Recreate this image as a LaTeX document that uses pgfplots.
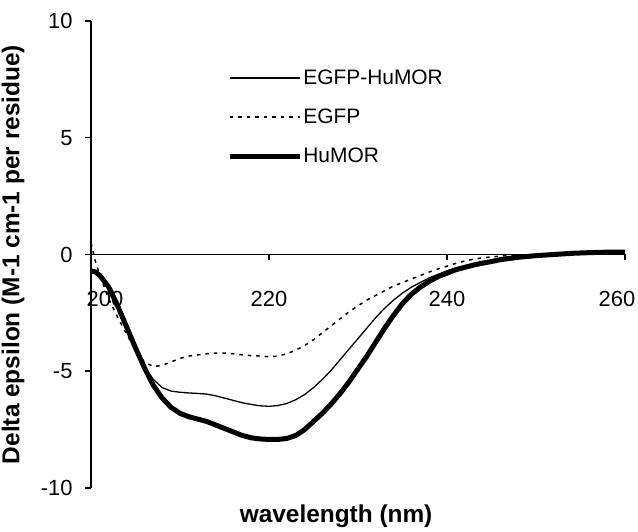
\documentclass[border=0pt]{standalone}
\usepackage{fontspec}
\setmainfont{Liberation Sans}
\usepackage{pgfplots}
\pgfplotsset{compat=1.18}
\begin{document}
\begin{tikzpicture}
\begin{axis}[
  at={(0,0)}, anchor=south west,
  width=534bp, height=467bp, scale only axis=true,
  xmin=200, xmax=260, ymin=-10, ymax=10,
  axis x line*=middle, axis y line*=left,
  hide obscured x ticks=false,
  hide obscured y ticks=false,
  axis line style={line width=1.8bp, black},
  xtick={200,220,240,260},
  xticklabels={\hspace*{28bp}200,220,240,260\hspace*{16bp}},
  ytick={-10,-5,0,5,10},
  tick align=outside,
  major tick length=6bp,
  tick style={line width=1.5bp, black},
  xticklabel style={font=\fontsize{22}{26}\selectfont, anchor=center, yshift=-38bp},
  yticklabel style={font=\fontsize{22}{26}\selectfont, xshift=-9bp},
  /pgf/number format/assume math mode=true,
  xlabel={\bfseries wavelength (nm)},
  ylabel={\bfseries Delta epsilon (M-1 cm-1 per residue)},
  xlabel style={font=\fontsize{24.5}{28}\selectfont, at={([yshift=-28bp]axis description cs:0.459,0)}, anchor=center},
  ylabel style={font=\fontsize{24.5}{28}\selectfont, at={([xshift=-78bp]axis description cs:0,0.5)}, anchor=center, rotate=0},
  clip=false,
  legend style={draw=none, fill=none, at={(axis cs:215.3,7.95)}, anchor=north west,
    font=\fontsize{21}{25}\selectfont, inner sep=0pt, row sep=21bp,
    nodes={inner sep=1bp}},
  legend cell align=left,
  legend image code/.code={\draw[#1] (0bp,0bp) -- (70bp,0bp);},
]
\addplot[black, line width=1.3bp] coordinates {
(200,-0.7) (201,-0.95) (202,-1.45) (203,-2.25) (204,-3.15) (205,-4.05) (206,-4.8) (207,-5.35) (208,-5.7) (209,-5.85) (210,-5.9) (211,-5.93) (212,-5.95) (213,-5.98) (214,-6.05) (215,-6.15) (216,-6.25) (217,-6.35) (218,-6.42) (219,-6.48) (220,-6.5) (221,-6.47) (222,-6.38) (223,-6.22) (224,-6.0) (225,-5.7) (226,-5.35) (227,-4.95) (228,-4.5) (229,-4.05) (230,-3.6) (231,-3.15) (232,-2.7) (233,-2.3) (234,-1.95) (235,-1.65) (236,-1.4) (237,-1.2) (238,-1.0) (239,-0.85) (240,-0.7) (241,-0.58) (242,-0.48) (243,-0.4) (244,-0.33) (245,-0.27) (246,-0.2) (248,-0.1) (250,-0.04) (252,0.0) (256,0.05) (260,0.08)
};
\addlegendentry{EGFP-HuMOR}
\addplot[black, line width=1.5bp, dash pattern=on 3.5bp off 5bp] coordinates {
(200,0.5) (200.5,-0.3) (201,-0.9) (202,-1.9) (203,-2.7) (204,-3.4) (205,-4.1) (206,-4.6) (207,-4.8) (208,-4.75) (209,-4.6) (210,-4.45) (211,-4.35) (212,-4.3) (213,-4.25) (214,-4.22) (215,-4.22) (216,-4.25) (217,-4.3) (218,-4.33) (219,-4.35) (220,-4.38) (221,-4.35) (222,-4.25) (223,-4.1) (224,-3.9) (225,-3.65) (226,-3.35) (227,-3.05) (228,-2.75) (229,-2.45) (230,-2.2) (231,-1.95) (232,-1.75) (233,-1.55) (234,-1.35) (235,-1.2) (236,-1.05) (237,-0.9) (238,-0.75) (239,-0.62) (240,-0.5) (241,-0.38) (242,-0.28) (243,-0.2) (244,-0.14) (246,-0.07) (248,-0.03) (250,0.0) (255,0.03) (260,0.05)
};
\addlegendentry{EGFP}
\addplot[black, line width=5bp] coordinates {
(200,-0.7) (200.5,-0.75) (201,-0.9) (202,-1.4) (203,-2.2) (204,-3.1) (205,-4.0) (206,-4.85) (207,-5.6) (208,-6.15) (209,-6.55) (210,-6.8) (211,-6.95) (212,-7.05) (213,-7.15) (214,-7.3) (215,-7.45) (216,-7.6) (217,-7.75) (218,-7.85) (219,-7.9) (220,-7.92) (221,-7.92) (222,-7.88) (223,-7.75) (224,-7.5) (225,-7.15) (226,-6.8) (227,-6.4) (228,-5.95) (229,-5.45) (230,-4.9) (231,-4.35) (232,-3.75) (233,-3.15) (234,-2.6) (235,-2.1) (236,-1.7) (237,-1.4) (238,-1.15) (239,-0.95) (240,-0.8) (241,-0.65) (242,-0.55) (243,-0.45) (244,-0.37) (245,-0.3) (246,-0.22) (248,-0.12) (250,-0.05) (252,0.0) (254,0.05) (256,0.08) (258,0.1) (260,0.1)
};
\addlegendentry{HuMOR}
\end{axis}
\pgfresetboundingbox
\path[use as bounding box] (-91bp,-44bp) rectangle (547bp,488bp);
\end{tikzpicture}
\end{document}
